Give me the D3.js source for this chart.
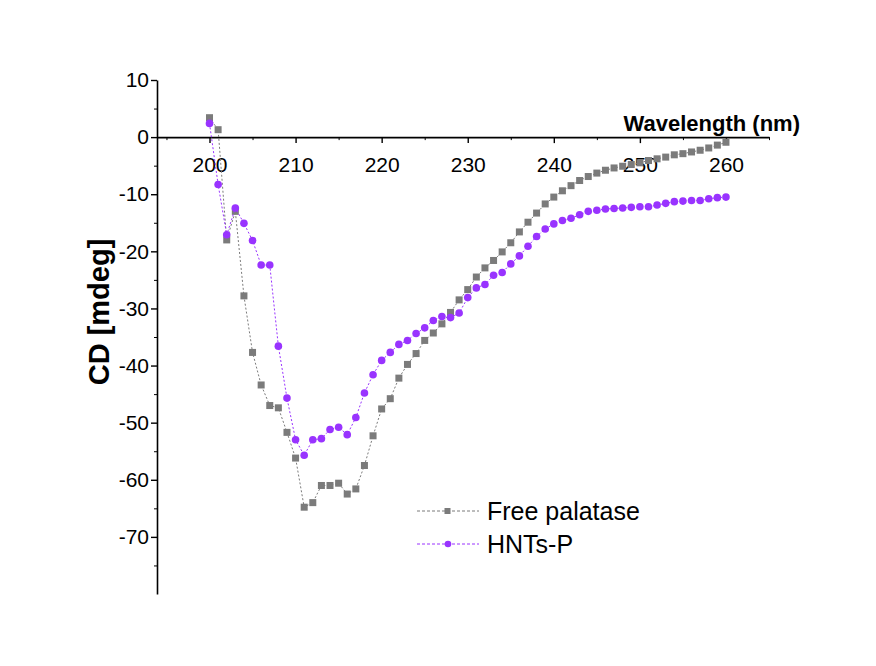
<!DOCTYPE html>
<html>
<head>
<meta charset="utf-8">
<script src="https://cdn.jsdelivr.net/npm/d3@7"></script>
<style>
  body { margin: 0; background: #fff; }
  svg { display: block; font-family: "Liberation Sans", Arial, sans-serif; }
</style>
</head>
<body>
<script>
// wavelengths 200..260 nm, one reading per nm
var wavelength = d3.range(200, 261);

var freePalatase = [
  3.4, 1.3, -18.0, -13.0, -27.8, -37.7, -43.4, -47.0, -47.4, -51.7,
  -56.2, -64.8, -64.0, -61.0, -61.0, -60.6, -62.5, -61.6, -57.5, -52.3,
  -47.6, -45.8, -42.2, -39.8, -37.9, -35.6, -34.3, -32.7, -30.7, -28.5,
  -26.7, -24.5, -22.9, -21.6, -20.1, -18.5, -16.6, -14.9, -13.3, -11.7,
  -10.5, -9.4, -8.5, -7.6, -6.9, -6.3, -5.8, -5.4, -5.1, -4.8,
  -4.5, -4.1, -3.8, -3.5, -3.1, -2.9, -2.6, -2.3, -1.9, -1.4,
  -0.9
];

var hntsP = [
  2.4, -8.3, -17.1, -12.4, -15.1, -18.1, -22.4, -22.4, -36.6, -45.7,
  -53.0, -55.7, -53.0, -52.8, -51.2, -50.8, -52.1, -49.1, -44.8, -41.6,
  -39.1, -37.7, -36.3, -35.6, -34.4, -33.4, -32.1, -31.4, -31.6, -30.8,
  -28.1, -26.4, -25.8, -24.2, -23.7, -22.2, -20.8, -19.1, -17.4, -16.1,
  -15.2, -14.6, -14.2, -13.6, -13.0, -12.8, -12.6, -12.5, -12.4, -12.3,
  -12.2, -12.2, -11.9, -11.6, -11.3, -11.2, -11.1, -11.1, -10.8, -10.6,
  -10.5
];

var seriesNames = ['Free palatase', 'HNTs-P'];
var xTicks = d3.range(200, 261, 10);
var yTicks = d3.range(-70, 11, 10);

var width = 876;
var height = 666;

var x = d3.scaleLinear().domain([193.9, 265]).range([157, 769]);
var y = d3.scaleLinear().domain([-80, 10]).range([594, 80]);

// plain hyphen for negatives, like the original figure
var fmt = function (d) { return String(d); };

var svg = d3.select('body').append('svg')
  .attr('width', width)
  .attr('height', height);

// y axis, minor ticks first
svg.append('g')
  .attr('transform', 'translate(157,0)')
  .call(d3.axisLeft(y).tickValues(d3.range(-75, 10, 10)).tickSize(3).tickFormat(''))
  .call(function (g) { g.select('.domain').remove(); });

var yAxis = svg.append('g')
  .attr('transform', 'translate(157,0)')
  .call(d3.axisLeft(y).tickValues(yTicks).tickSize(6).tickSizeOuter(0).tickPadding(2).tickFormat(fmt));
yAxis.select('.domain').attr('stroke-width', 1.6);
yAxis.selectAll('line').attr('stroke-width', 1.4);
yAxis.selectAll('text').style('font-size', '21px').attr('fill', '#000');

// x axis sits on y = 0
svg.append('g')
  .attr('transform', 'translate(0,' + y(0) + ')')
  .call(d3.axisBottom(x).tickValues(d3.range(205, 266, 10).concat([195])).tickSize(3).tickFormat(''))
  .call(function (g) { g.select('.domain').remove(); });

var xAxis = svg.append('g')
  .attr('transform', 'translate(0,' + y(0) + ')')
  .call(d3.axisBottom(x).tickValues(xTicks).tickSize(6).tickSizeOuter(0).tickPadding(14).tickFormat(fmt));
xAxis.select('.domain').attr('stroke-width', 1.6);
xAxis.selectAll('line').attr('stroke-width', 1.4);
xAxis.selectAll('text').style('font-size', '21px').attr('fill', '#000');

svg.append('text')
  .attr('x', 800)
  .attr('y', 131)
  .attr('text-anchor', 'end')
  .style('font-size', '22px')
  .style('font-weight', 'bold')
  .text('Wavelength (nm)');

svg.append('text')
  .attr('transform', 'translate(109,312) rotate(-90)')
  .attr('text-anchor', 'middle')
  .style('font-size', '29px')
  .style('font-weight', 'bold')
  .text('CD [mdeg]');

var series = [
  { name: seriesNames[0], values: freePalatase, color: '#7b7b7b', shape: 'square' },
  { name: seriesNames[1], values: hntsP, color: '#9933ff', shape: 'circle' }
];

var line = d3.line()
  .x(function (d) { return x(d[0]); })
  .y(function (d) { return y(d[1]); });

series.forEach(function (s) {
  var pts = wavelength.map(function (w, i) { return [w, s.values[i]]; });
  svg.append('path')
    .datum(pts)
    .attr('fill', 'none')
    .attr('stroke', s.color)
    .attr('stroke-width', 1)
    .attr('stroke-dasharray', '2,2')
    .attr('d', line);

  var g = svg.append('g');
  if (s.shape === 'square') {
    g.selectAll('rect').data(pts).enter().append('rect')
      .attr('x', function (d) { return x(d[0]) - 3.5; })
      .attr('y', function (d) { return y(d[1]) - 3.5; })
      .attr('width', 7)
      .attr('height', 7)
      .attr('fill', s.color);
  } else {
    g.selectAll('circle').data(pts).enter().append('circle')
      .attr('cx', function (d) { return x(d[0]); })
      .attr('cy', function (d) { return y(d[1]); })
      .attr('r', 3.8)
      .attr('fill', s.color);
  }
});

// legend
var legend = svg.append('g').attr('transform', 'translate(417,511)');
series.forEach(function (s, i) {
  var row = legend.append('g').attr('transform', 'translate(0,' + (i * 33) + ')');
  row.append('line')
    .attr('x1', 0).attr('x2', 62)
    .attr('stroke', s.color)
    .attr('stroke-width', 1)
    .attr('stroke-dasharray', '3,2');
  if (s.shape === 'square') {
    row.append('rect').attr('x', 27.5).attr('y', -3).attr('width', 6).attr('height', 6).attr('fill', s.color);
  } else {
    row.append('circle').attr('cx', 31).attr('r', 3.3).attr('fill', s.color);
  }
  row.append('text')
    .attr('x', 70)
    .attr('dy', '0.35em')
    .style('font-size', '25px')
    .text(s.name);
});
</script>
</body>
</html>
